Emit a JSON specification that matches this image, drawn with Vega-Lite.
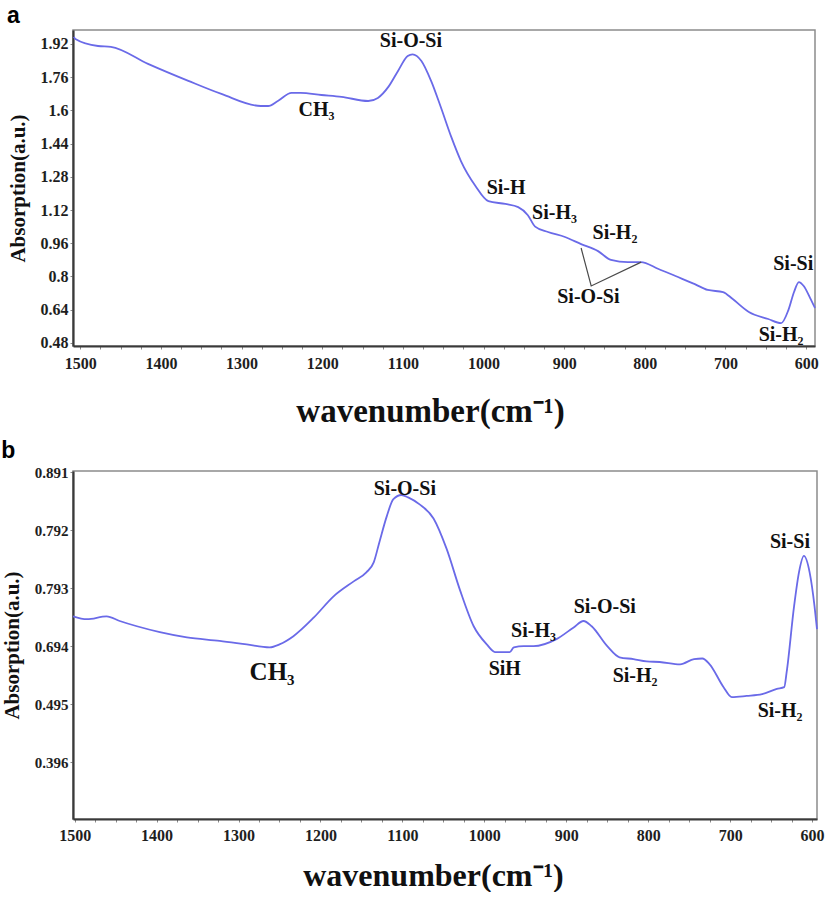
{
  "$schema": "https://vega.github.io/schema/vega-lite/v6.json",
  "background": "white",
  "padding": {"left": 0, "top": 4, "right": 0, "bottom": 0},
  "spacing": 10,
  "config": {
    "view": {"stroke": "#8c8c8c", "strokeWidth": 1.5},
    "axis": {
      "labelFont": "Liberation Serif",
      "labelFontWeight": "bold",
      "labelFontSize": 16,
      "labelColor": "#1e1e1e",
      "titleFont": "Liberation Serif",
      "titleFontWeight": "bold",
      "titleColor": "#111111",
      "domainColor": "#3a3a3a",
      "domainWidth": 2.2,
      "tickColor": "#888888",
      "tickSize": 3,
      "grid": false
    },
    "title": {
      "font": "Liberation Sans",
      "fontSize": 23,
      "fontWeight": "bold",
      "color": "#000000",
      "anchor": "start",
      "frame": "bounds",
      "offset": 2
    }
  },
  "datasets": {
    "spectrumA": [
      {"wavenumber": 1508, "absorption": 1.954}, {"wavenumber": 1506, "absorption": 1.944},
      {"wavenumber": 1478, "absorption": 1.910}, {"wavenumber": 1462, "absorption": 1.906},
      {"wavenumber": 1416, "absorption": 1.824}, {"wavenumber": 1366, "absorption": 1.742},
      {"wavenumber": 1325, "absorption": 1.679}, {"wavenumber": 1276, "absorption": 1.621},
      {"wavenumber": 1267, "absorption": 1.621}, {"wavenumber": 1255, "absorption": 1.645},
      {"wavenumber": 1238, "absorption": 1.684}, {"wavenumber": 1227, "absorption": 1.684},
      {"wavenumber": 1201, "absorption": 1.674}, {"wavenumber": 1176, "absorption": 1.665},
      {"wavenumber": 1143, "absorption": 1.645}, {"wavenumber": 1131, "absorption": 1.660},
      {"wavenumber": 1118, "absorption": 1.713}, {"wavenumber": 1106, "absorption": 1.790},
      {"wavenumber": 1094, "absorption": 1.862}, {"wavenumber": 1088, "absorption": 1.870},
      {"wavenumber": 1077, "absorption": 1.838}, {"wavenumber": 1065, "absorption": 1.742},
      {"wavenumber": 1053, "absorption": 1.616}, {"wavenumber": 1040, "absorption": 1.472},
      {"wavenumber": 1028, "absorption": 1.356}, {"wavenumber": 1010, "absorption": 1.236},
      {"wavenumber": 994, "absorption": 1.163}, {"wavenumber": 973, "absorption": 1.149},
      {"wavenumber": 957, "absorption": 1.134}, {"wavenumber": 945, "absorption": 1.095},
      {"wavenumber": 936, "absorption": 1.040}, {"wavenumber": 920, "absorption": 1.014},
      {"wavenumber": 899, "absorption": 0.990}, {"wavenumber": 879, "absorption": 0.956},
      {"wavenumber": 858, "absorption": 0.922}, {"wavenumber": 842, "absorption": 0.880},
      {"wavenumber": 821, "absorption": 0.869}, {"wavenumber": 805, "absorption": 0.869},
      {"wavenumber": 783, "absorption": 0.836}, {"wavenumber": 762, "absorption": 0.802},
      {"wavenumber": 738, "absorption": 0.763}, {"wavenumber": 722, "absorption": 0.735},
      {"wavenumber": 703, "absorption": 0.725}, {"wavenumber": 691, "absorption": 0.691},
      {"wavenumber": 671, "absorption": 0.629}, {"wavenumber": 647, "absorption": 0.595},
      {"wavenumber": 631, "absorption": 0.575}, {"wavenumber": 622, "absorption": 0.638},
      {"wavenumber": 615, "absorption": 0.725}, {"wavenumber": 609, "absorption": 0.773},
      {"wavenumber": 603, "absorption": 0.754}, {"wavenumber": 595, "absorption": 0.696},
      {"wavenumber": 589, "absorption": 0.648}
    ],
    "bracketA": [
      {"step": 1, "wavenumber": 879, "absorption": 0.937},
      {"step": 2, "wavenumber": 866.5, "absorption": 0.754},
      {"step": 3, "wavenumber": 804.5, "absorption": 0.869}
    ],
    "labelsA": [
      {"label": "Si-O-Si", "wavenumber": 1090, "absorption": 1.934},
      {"label": "CH₃", "wavenumber": 1207, "absorption": 1.602},
      {"label": "Si-H", "wavenumber": 972, "absorption": 1.226},
      {"label": "Si-H₃", "wavenumber": 912, "absorption": 1.106},
      {"label": "Si-H₂", "wavenumber": 837, "absorption": 1.009},
      {"label": "Si-O-Si", "wavenumber": 870, "absorption": 0.701},
      {"label": "Si-Si", "wavenumber": 616, "absorption": 0.860},
      {"label": "Si-H₂", "wavenumber": 631, "absorption": 0.518}
    ],
    "spectrumB": [
      {"wavenumber": 1502, "absorption": 0.645}, {"wavenumber": 1485, "absorption": 0.640},
      {"wavenumber": 1461, "absorption": 0.645}, {"wavenumber": 1445, "absorption": 0.637},
      {"wavenumber": 1424, "absorption": 0.628}, {"wavenumber": 1396, "absorption": 0.618},
      {"wavenumber": 1363, "absorption": 0.609}, {"wavenumber": 1323, "absorption": 0.603},
      {"wavenumber": 1290, "absorption": 0.597}, {"wavenumber": 1262, "absorption": 0.592},
      {"wavenumber": 1250, "absorption": 0.597}, {"wavenumber": 1233, "absorption": 0.611},
      {"wavenumber": 1208, "absorption": 0.643}, {"wavenumber": 1184, "absorption": 0.679},
      {"wavenumber": 1159, "absorption": 0.705}, {"wavenumber": 1144, "absorption": 0.720},
      {"wavenumber": 1135, "absorption": 0.737}, {"wavenumber": 1128, "absorption": 0.772},
      {"wavenumber": 1119, "absorption": 0.816}, {"wavenumber": 1111, "absorption": 0.845},
      {"wavenumber": 1101, "absorption": 0.852}, {"wavenumber": 1093, "absorption": 0.848},
      {"wavenumber": 1079, "absorption": 0.836}, {"wavenumber": 1062, "absorption": 0.812},
      {"wavenumber": 1046, "absorption": 0.760}, {"wavenumber": 1030, "absorption": 0.691},
      {"wavenumber": 1013, "absorption": 0.628}, {"wavenumber": 997, "absorption": 0.597},
      {"wavenumber": 987, "absorption": 0.584}, {"wavenumber": 969, "absorption": 0.584},
      {"wavenumber": 964, "absorption": 0.592}, {"wavenumber": 952, "absorption": 0.594},
      {"wavenumber": 940, "absorption": 0.594}, {"wavenumber": 912, "absorption": 0.606},
      {"wavenumber": 891, "absorption": 0.626}, {"wavenumber": 879, "absorption": 0.637},
      {"wavenumber": 869, "absorption": 0.628}, {"wavenumber": 850, "absorption": 0.594},
      {"wavenumber": 835, "absorption": 0.575}, {"wavenumber": 818, "absorption": 0.572},
      {"wavenumber": 802, "absorption": 0.568}, {"wavenumber": 786, "absorption": 0.567},
      {"wavenumber": 761, "absorption": 0.563}, {"wavenumber": 744, "absorption": 0.572},
      {"wavenumber": 734, "absorption": 0.573}, {"wavenumber": 725, "absorption": 0.563},
      {"wavenumber": 708, "absorption": 0.524}, {"wavenumber": 698, "absorption": 0.507},
      {"wavenumber": 680, "absorption": 0.509}, {"wavenumber": 661, "absorption": 0.512},
      {"wavenumber": 643, "absorption": 0.521}, {"wavenumber": 634, "absorption": 0.524},
      {"wavenumber": 631, "absorption": 0.550}, {"wavenumber": 622, "absorption": 0.662},
      {"wavenumber": 616, "absorption": 0.720}, {"wavenumber": 610, "absorption": 0.748},
      {"wavenumber": 603, "absorption": 0.720}, {"wavenumber": 597, "absorption": 0.662},
      {"wavenumber": 594, "absorption": 0.623}
    ],
    "labelsB": [
      {"label": "Si-O-Si", "wavenumber": 1097, "absorption": 0.862},
      {"label": "CH₃", "wavenumber": 1259, "absorption": 0.550},
      {"label": "SiH", "wavenumber": 975, "absorption": 0.555},
      {"label": "Si-H₃", "wavenumber": 940, "absorption": 0.620},
      {"label": "Si-O-Si", "wavenumber": 853, "absorption": 0.661},
      {"label": "Si-H₂", "wavenumber": 816, "absorption": 0.543},
      {"label": "Si-Si", "wavenumber": 627, "absorption": 0.772},
      {"label": "Si-H₂", "wavenumber": 639, "absorption": 0.483}
    ]
  },
  "vconcat": [
    {
      "title": {"text": "a"},
      "width": 742,
      "height": 316,
      "encoding": {
        "x": {
          "field": "wavenumber",
          "type": "quantitative",
          "scale": {"domain": [589, 1509], "reverse": true, "nice": false, "zero": false},
          "axis": {
            "title": "wavenumber(cm⁻¹)",
            "titleFont": "Liberation Serif",
            "titleFontSize": 33,
            "titlePadding": 24,
            "titleX": 357,
            "values": [600, 625, 650, 675, 700, 725, 750, 775, 800, 825, 850, 875, 900, 925, 950, 975, 1000, 1025, 1050, 1075, 1100, 1125, 1150, 1175, 1200, 1225, 1250, 1275, 1300, 1325, 1350, 1375, 1400, 1425, 1450, 1475, 1500],
            "format": "d",
            "labelExpr": "datum.value % 100 == 0 ? datum.label : ''",
            "labelFont": "Liberation Serif",
            "labelFontWeight": "bold",
            "labelFontSize": 16,
            "labelPadding": 6
          }
        },
        "y": {
          "field": "absorption",
          "type": "quantitative",
          "scale": {"domain": [0.465, 1.987], "nice": false, "zero": false},
          "axis": {
            "title": "Absorption(a.u.)",
            "titleFont": "Liberation Serif",
            "titleFontSize": 21,
            "titlePadding": 12,
            "values": [0.48, 0.64, 0.8, 0.96, 1.12, 1.28, 1.44, 1.6, 1.76, 1.92],
            "format": ".2~f",
            "labelFont": "Liberation Serif",
            "labelFontWeight": "bold",
            "labelFontSize": 16,
            "labelPadding": 2
          }
        }
      },
      "layer": [
        {
          "data": {"name": "spectrumA"},
          "mark": {"type": "line", "color": "#6a6ae8", "strokeWidth": 1.8, "interpolate": "monotone"}
        },
        {
          "data": {"name": "bracketA"},
          "mark": {"type": "line", "color": "#4a4a4a", "strokeWidth": 1.2},
          "encoding": {"order": {"field": "step", "type": "quantitative"}}
        },
        {
          "data": {"name": "labelsA"},
          "mark": {"type": "text", "font": "Liberation Serif", "fontWeight": "bold", "fontSize": 20, "color": "#111111"},
          "encoding": {"text": {"field": "label", "type": "nominal"}}
        }
      ]
    },
    {
      "title": {"text": "b"},
      "width": 744,
      "height": 348,
      "encoding": {
        "x": {
          "field": "wavenumber",
          "type": "quantitative",
          "scale": {"domain": [594, 1502], "reverse": true, "nice": false, "zero": false},
          "axis": {
            "title": "wavenumber(cm⁻¹)",
            "titleFont": "Liberation Serif",
            "titleFontSize": 32,
            "titlePadding": 17,
            "titleX": 360,
            "values": [600, 625, 650, 675, 700, 725, 750, 775, 800, 825, 850, 875, 900, 925, 950, 975, 1000, 1025, 1050, 1075, 1100, 1125, 1150, 1175, 1200, 1225, 1250, 1275, 1300, 1325, 1350, 1375, 1400, 1425, 1450, 1475, 1500],
            "format": "d",
            "labelExpr": "datum.value % 100 == 0 ? datum.label : ''",
            "labelFont": "Liberation Serif",
            "labelFontWeight": "bold",
            "labelFontSize": 16,
            "labelPadding": 5
          }
        },
        "y": {
          "field": "absorption",
          "type": "quantitative",
          "scale": {"domain": [0.299, 0.893], "nice": false, "zero": false},
          "axis": {
            "title": "Absorption(a.u.)",
            "titleFont": "Liberation Serif",
            "titleFontSize": 21,
            "titlePadding": 12,
            "values": [0.396, 0.495, 0.594, 0.693, 0.792, 0.891],
            "labelExpr": "abs(datum.value - 0.693) < 0.001 ? '0.793' : abs(datum.value - 0.594) < 0.001 ? '0.694' : format(datum.value, '.3f')",
            "labelFont": "Liberation Serif",
            "labelFontWeight": "bold",
            "labelFontSize": 15,
            "labelPadding": 2
          }
        }
      },
      "layer": [
        {
          "data": {"name": "spectrumB"},
          "mark": {"type": "line", "color": "#6a6ae8", "strokeWidth": 1.8, "interpolate": "monotone"}
        },
        {
          "data": {"name": "labelsB"},
          "transform": [{"filter": "datum.label != 'CH₃'"}],
          "mark": {"type": "text", "font": "Liberation Serif", "fontWeight": "bold", "fontSize": 20, "color": "#111111"},
          "encoding": {"text": {"field": "label", "type": "nominal"}}
        },
        {
          "data": {"name": "labelsB"},
          "transform": [{"filter": "datum.label == 'CH₃'"}],
          "mark": {"type": "text", "font": "Liberation Serif", "fontWeight": "bold", "fontSize": 25, "color": "#111111"},
          "encoding": {"text": {"field": "label", "type": "nominal"}}
        }
      ]
    }
  ]
}
